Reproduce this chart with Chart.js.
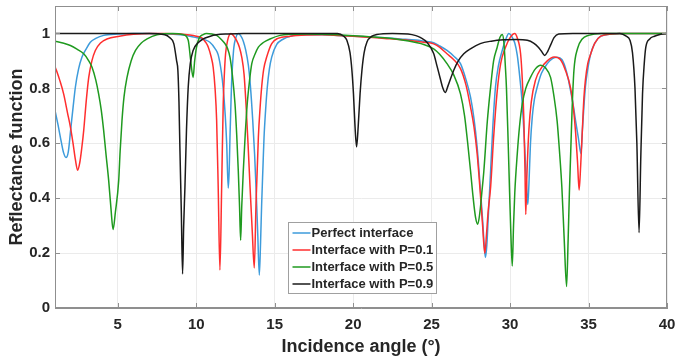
<!DOCTYPE html>
<html>
<head>
<meta charset="utf-8">
<script src="https://cdn.jsdelivr.net/npm/chart.js@4.4.1/dist/chart.umd.min.js"></script>
<style>
  html, body { margin: 0; padding: 0; background: #fff; }
  #wrap { width: 678px; height: 361px; }
</style>
</head>
<body>
<div id="wrap"><canvas id="reflectChart"></canvas></div>
<script>
const xTicks = [5, 10, 15, 20, 25, 30, 35, 40];
const yTicks = [0, 0.2, 0.4, 0.6, 0.8, 1];

const seriesLabels = [
  "Perfect interface",
  "Interface with P=0.1",
  "Interface with P=0.5",
  "Interface with P=0.9",
];
const seriesColors = ["#3d9bdb", "#ff2e2e", "#1f9a1f", "#1a1a1a"];

// [angle, reflectance]
const perfect = [
  [1.0, 0.72], [1.2, 0.665], [1.4, 0.605], [1.55, 0.565], [1.7, 0.548], [1.85, 0.57],
  [2.0, 0.65], [2.15, 0.73], [2.3, 0.805], [2.5, 0.87], [2.72, 0.914], [3.0, 0.945],
  [3.25, 0.968], [3.6, 0.982], [4.1, 0.993], [5, 0.998], [6, 1.0], [7, 1.0], [8, 0.999],
  [9, 0.995], [9.6, 0.99], [10.0, 0.985], [10.5, 0.978], [10.87, 0.968], [11.2, 0.945],
  [11.4, 0.922], [11.6, 0.86], [11.72, 0.8], [11.85, 0.7], [11.94, 0.6], [12.04, 0.437],
  [12.1, 0.5], [12.15, 0.62], [12.21, 0.74], [12.26, 0.83], [12.33, 0.9], [12.4, 0.95],
  [12.5, 0.98], [12.68, 1.0], [12.85, 0.99], [13.0, 0.972], [13.15, 0.94], [13.32, 0.885],
  [13.45, 0.81], [13.6, 0.684], [13.72, 0.56], [13.81, 0.44], [13.92, 0.27], [14.02, 0.12],
  [14.1, 0.24], [14.17, 0.38], [14.25, 0.51], [14.32, 0.62], [14.42, 0.72], [14.53, 0.805],
  [14.66, 0.87], [14.81, 0.914], [15.13, 0.96], [15.5, 0.978], [16, 0.99], [17, 0.995],
  [18, 0.995], [19, 0.993], [20, 0.99], [21, 0.987], [22, 0.984], [23, 0.98], [24, 0.976],
  [24.5, 0.972], [25.13, 0.966], [25.5, 0.955], [25.98, 0.938], [26.4, 0.918], [26.84, 0.89],
  [27.2, 0.83], [27.48, 0.768], [27.7, 0.69], [27.9, 0.587], [28.1, 0.44], [28.25, 0.32],
  [28.35, 0.23], [28.43, 0.184], [28.52, 0.23], [28.6, 0.32], [28.76, 0.5], [28.9, 0.66],
  [29.07, 0.805], [29.25, 0.88], [29.5, 0.938], [29.7, 0.975], [29.92, 1.0], [30.1, 0.99],
  [30.3, 0.965], [30.46, 0.92], [30.62, 0.84], [30.78, 0.74], [30.92, 0.6], [31.03, 0.47],
  [31.13, 0.377], [31.2, 0.45], [31.3, 0.6], [31.42, 0.7], [31.55, 0.76], [31.73, 0.805],
  [32.0, 0.855], [32.37, 0.89], [32.7, 0.908], [33.0, 0.913], [33.3, 0.905], [33.6, 0.86],
  [33.86, 0.79], [34.05, 0.73], [34.18, 0.68], [34.35, 0.62], [34.52, 0.562], [34.6, 0.64],
  [34.7, 0.73], [34.8, 0.805], [34.95, 0.87], [35.14, 0.926], [35.4, 0.965], [35.78, 0.99],
  [36.5, 0.998], [37, 1.0], [40, 1.0],
];

const p01 = [
  [1.0, 0.88], [1.3, 0.83], [1.55, 0.78], [1.8, 0.71], [1.98, 0.66], [2.15, 0.6], [2.3, 0.54],
  [2.44, 0.502], [2.58, 0.53], [2.7, 0.58], [2.83, 0.647], [3.0, 0.76], [3.15, 0.84],
  [3.35, 0.9], [3.57, 0.938], [3.9, 0.965], [4.31, 0.98], [5.1, 0.99], [6, 0.997], [7, 1.0],
  [8, 1.0], [9, 0.998], [9.6, 0.994], [10.0, 0.99], [10.34, 0.985], [10.6, 0.968],
  [10.77, 0.95], [10.95, 0.915], [11.08, 0.877], [11.2, 0.8], [11.3, 0.684], [11.4, 0.44],
  [11.51, 0.138], [11.62, 0.44], [11.72, 0.744], [11.8, 0.86], [11.87, 0.926], [12.0, 0.975],
  [12.21, 1.0], [12.4, 0.99], [12.57, 0.975], [12.75, 0.95], [12.9, 0.914], [13.05, 0.85],
  [13.17, 0.744], [13.3, 0.6], [13.43, 0.44], [13.57, 0.28], [13.7, 0.146], [13.81, 0.38],
  [13.96, 0.623], [14.07, 0.73], [14.17, 0.805], [14.3, 0.87], [14.49, 0.914], [14.81, 0.963],
  [15.2, 0.982], [16, 0.99], [17, 0.994], [18, 0.995], [19, 0.993], [20, 0.99], [21, 0.986],
  [22, 0.982], [23, 0.978], [24, 0.972], [24.5, 0.968], [25.13, 0.962], [25.5, 0.95],
  [25.98, 0.926], [26.4, 0.905], [26.84, 0.872], [27.2, 0.81], [27.48, 0.732], [27.7, 0.66],
  [27.9, 0.563], [28.1, 0.42], [28.25, 0.3], [28.39, 0.199], [28.5, 0.27], [28.6, 0.35],
  [28.76, 0.44], [28.95, 0.62], [29.18, 0.79], [29.4, 0.89], [29.71, 0.95], [30.0, 0.985],
  [30.3, 1.0], [30.45, 0.985], [30.67, 0.926], [30.78, 0.83], [30.88, 0.684], [30.95, 0.5],
  [31.0, 0.341], [31.07, 0.48], [31.2, 0.65], [31.35, 0.75], [31.62, 0.83], [32.0, 0.875],
  [32.37, 0.9], [32.8, 0.914], [33.2, 0.905], [33.5, 0.87], [33.86, 0.8], [34.05, 0.72],
  [34.18, 0.636], [34.3, 0.53], [34.4, 0.43], [34.5, 0.52], [34.6, 0.64], [34.7, 0.76],
  [34.8, 0.83], [34.95, 0.89], [35.14, 0.926], [35.4, 0.965], [35.78, 0.99], [36.5, 0.998],
  [37, 1.0], [40, 1.0],
];

const p05 = [
  [1.0, 0.972], [1.5, 0.965], [1.98, 0.956], [2.4, 0.943], [2.83, 0.926], [3.1, 0.905],
  [3.36, 0.877], [3.6, 0.83], [3.78, 0.78], [3.95, 0.72], [4.1, 0.647], [4.25, 0.56],
  [4.42, 0.465], [4.57, 0.36], [4.7, 0.286], [4.85, 0.35], [5.06, 0.465], [5.15, 0.57],
  [5.27, 0.684], [5.4, 0.77], [5.59, 0.84], [5.85, 0.9], [6.13, 0.938], [6.5, 0.965],
  [6.87, 0.98], [7.5, 0.995], [8.5, 1.0], [9.2, 0.995], [9.49, 0.975], [9.65, 0.9],
  [9.8, 0.84], [9.9, 0.9], [10.02, 0.95], [10.2, 0.985], [10.44, 0.996], [10.65, 1.0],
  [11.0, 0.998], [11.3, 0.993], [11.6, 0.978], [11.83, 0.963], [12.0, 0.945], [12.15, 0.914],
  [12.3, 0.85], [12.47, 0.744], [12.58, 0.63], [12.68, 0.5], [12.76, 0.37], [12.83, 0.247],
  [12.9, 0.37], [13.0, 0.5], [13.12, 0.63], [13.25, 0.744], [13.4, 0.83], [13.54, 0.89],
  [13.75, 0.925], [13.96, 0.95], [14.3, 0.968], [14.7, 0.98], [15.34, 0.993], [16, 0.997],
  [17, 0.998], [18, 0.997], [19, 0.995], [20, 0.992], [21, 0.988], [22, 0.984], [23, 0.977],
  [24, 0.967], [24.5, 0.96], [25.13, 0.944], [25.5, 0.925], [25.98, 0.89], [26.4, 0.85],
  [26.84, 0.78], [27.1, 0.7], [27.3, 0.6], [27.48, 0.5], [27.65, 0.4], [27.8, 0.33],
  [27.94, 0.305], [28.08, 0.35], [28.2, 0.42], [28.33, 0.5], [28.55, 0.68], [28.76, 0.805],
  [28.95, 0.9], [29.18, 0.95], [29.35, 0.985], [29.5, 0.996], [29.6, 0.97], [29.7, 0.88],
  [29.77, 0.8], [29.88, 0.6], [29.97, 0.42], [30.05, 0.27], [30.14, 0.153], [30.22, 0.3],
  [30.3, 0.42], [30.46, 0.563], [30.6, 0.66], [30.78, 0.744], [31.0, 0.8], [31.3, 0.84],
  [31.6, 0.87], [31.95, 0.884], [32.25, 0.875], [32.58, 0.84], [32.8, 0.77], [33.0, 0.68],
  [33.15, 0.57], [33.3, 0.44], [33.45, 0.25], [33.6, 0.078], [33.7, 0.25], [33.78, 0.42],
  [33.86, 0.56], [33.95, 0.72], [34.07, 0.866], [34.3, 0.945], [34.6, 0.98], [35.0, 0.993],
  [35.8, 1.0], [40, 1.0],
];

const p09 = [
  [1, 1.0], [7, 1.0], [8.0, 0.995], [8.3, 0.985], [8.57, 0.963], [8.75, 0.9], [8.83, 0.866],
  [8.9, 0.75], [8.96, 0.58], [9.05, 0.35], [9.13, 0.124], [9.2, 0.3], [9.28, 0.44],
  [9.38, 0.65], [9.49, 0.805], [9.62, 0.89], [9.8, 0.938], [10.1, 0.965], [10.44, 0.98],
  [10.9, 0.99], [11.3, 0.995], [12, 0.998], [13, 1.0], [19, 1.0], [19.4, 0.99],
  [19.6, 0.975], [19.8, 0.93], [19.92, 0.866], [20.02, 0.78], [20.12, 0.66], [20.22, 0.587],
  [20.32, 0.66], [20.44, 0.78], [20.56, 0.866], [20.7, 0.93], [20.88, 0.969], [21.2, 0.99],
  [21.5, 0.996], [22.5, 1.0], [23.5, 0.998], [24.0, 0.992], [24.3, 0.985], [24.7, 0.968],
  [25.13, 0.927], [25.35, 0.88], [25.55, 0.836], [25.72, 0.8], [25.87, 0.785], [26.05, 0.81],
  [26.41, 0.866], [26.7, 0.9], [27.05, 0.926], [27.5, 0.945], [28.1, 0.963], [28.8, 0.972],
  [29.6, 0.977], [30.4, 0.978], [31.1, 0.975], [31.5, 0.965], [31.8, 0.95], [32.0, 0.935],
  [32.2, 0.92], [32.4, 0.935], [32.6, 0.96], [32.8, 0.985], [33.1, 0.998], [34, 1.0],
  [37, 1.0], [37.4, 0.99], [37.64, 0.975], [37.8, 0.93], [37.96, 0.8], [38.08, 0.6],
  [38.22, 0.275], [38.33, 0.55], [38.44, 0.78], [38.55, 0.89], [38.65, 0.95], [38.9, 0.98],
  [39.2, 0.99], [39.6, 0.997], [40, 1.0],
];

const seriesData = [perfect, p01, p05, p09];

const FONT = "'Liberation Sans', Arial, sans-serif";
const TEXT = "#262626";
const FRAME = "#8f8f8f";

// MATLAB-like box: frame on all four sides, short inward ticks, legend inside the axes
const boxPlugin = {
  id: "boxPlugin",
  afterDraw(chart) {
    const { ctx, chartArea: a, scales } = chart;
    ctx.save();
    ctx.strokeStyle = FRAME;
    ctx.lineWidth = 1;
    ctx.strokeRect(a.left + 0.5, a.top + 0.5, a.right - a.left - 1, a.bottom - a.top - 1);

    ctx.beginPath();
    xTicks.forEach((v) => {
      const px = Math.round(scales.x.getPixelForValue(v)) + 0.5;
      ctx.moveTo(px, a.bottom);
      ctx.lineTo(px, a.bottom - 5);
      ctx.moveTo(px, a.top);
      ctx.lineTo(px, a.top + 5);
    });
    yTicks.forEach((v) => {
      const py = Math.round(scales.y.getPixelForValue(v)) + 0.5;
      ctx.moveTo(a.left, py);
      ctx.lineTo(a.left + 5, py);
      ctx.moveTo(a.right, py);
      ctx.lineTo(a.right - 5, py);
    });
    ctx.stroke();

    // legend box
    const lx = 288.5, ly = 222.5, lw = 148, lh = 71;
    ctx.fillStyle = "#ffffff";
    ctx.fillRect(lx, ly, lw, lh);
    ctx.strokeStyle = "#a0a0a0";
    ctx.strokeRect(lx, ly, lw, lh);
    ctx.font = "bold 13px " + FONT;
    ctx.textBaseline = "middle";
    ctx.textAlign = "left";
    seriesLabels.forEach((label, i) => {
      const rowY = ly + 10.5 + i * 17;
      ctx.strokeStyle = seriesColors[i];
      ctx.lineWidth = 1.5;
      ctx.beginPath();
      ctx.moveTo(lx + 4, rowY);
      ctx.lineTo(lx + 22, rowY);
      ctx.stroke();
      ctx.fillStyle = TEXT;
      ctx.fillText(label, lx + 23, rowY + 0.5);
    });
    ctx.restore();
  },
};

new Chart(document.getElementById("reflectChart"), {
  type: "line",
  data: {
    datasets: seriesData.map((pts, i) => ({
      label: seriesLabels[i],
      data: pts.map(([x, y]) => ({ x, y })),
      borderColor: seriesColors[i],
      borderWidth: 1.5,
      pointRadius: 0,
      fill: false,
      cubicInterpolationMode: "monotone",
      order: seriesData.length - i,
    })),
  },
  options: {
    responsive: true,
    maintainAspectRatio: false,
    animation: false,
    devicePixelRatio: 1,
    layout: { padding: { top: 6, right: 11, left: 0, bottom: 0 } },
    plugins: {
      legend: { display: false },
      tooltip: { enabled: false },
    },
    scales: {
      x: {
        type: "linear",
        min: 1,
        max: 40,
        afterBuildTicks: (s) => {
          s.ticks = xTicks.map((v) => ({ value: v }));
        },
        afterFit: (s) => {
          s.height = 53;
          s.paddingLeft = 0;
          s.paddingRight = 0;
        },
        grid: { color: "#ebebeb", drawTicks: false },
        border: { color: FRAME },
        ticks: {
          padding: 8,
          color: TEXT,
          font: { family: FONT, size: 15, weight: "bold" },
          maxRotation: 0,
        },
        title: {
          display: true,
          text: "Incidence angle (°)",
          color: TEXT,
          font: { family: FONT, size: 18, weight: "bold" },
          padding: { top: 0, bottom: 3 },
        },
      },
      y: {
        type: "linear",
        min: 0,
        max: 1.1,
        afterBuildTicks: (s) => {
          s.ticks = yTicks.map((v) => ({ value: v }));
        },
        afterFit: (s) => {
          s.width = 55;
          s.paddingTop = 0;
          s.paddingBottom = 0;
        },
        grid: { color: "#ebebeb", drawTicks: false },
        border: { color: FRAME },
        ticks: {
          padding: 5,
          color: TEXT,
          font: { family: FONT, size: 15, weight: "bold" },
          callback: (v) => String(+Number(v).toFixed(1)),
        },
        title: {
          display: true,
          text: "Reflectance function",
          color: TEXT,
          font: { family: FONT, size: 18, weight: "bold" },
          padding: { top: 6, bottom: 0 },
        },
      },
    },
  },
  plugins: [boxPlugin],
});
</script>
</body>
</html>
